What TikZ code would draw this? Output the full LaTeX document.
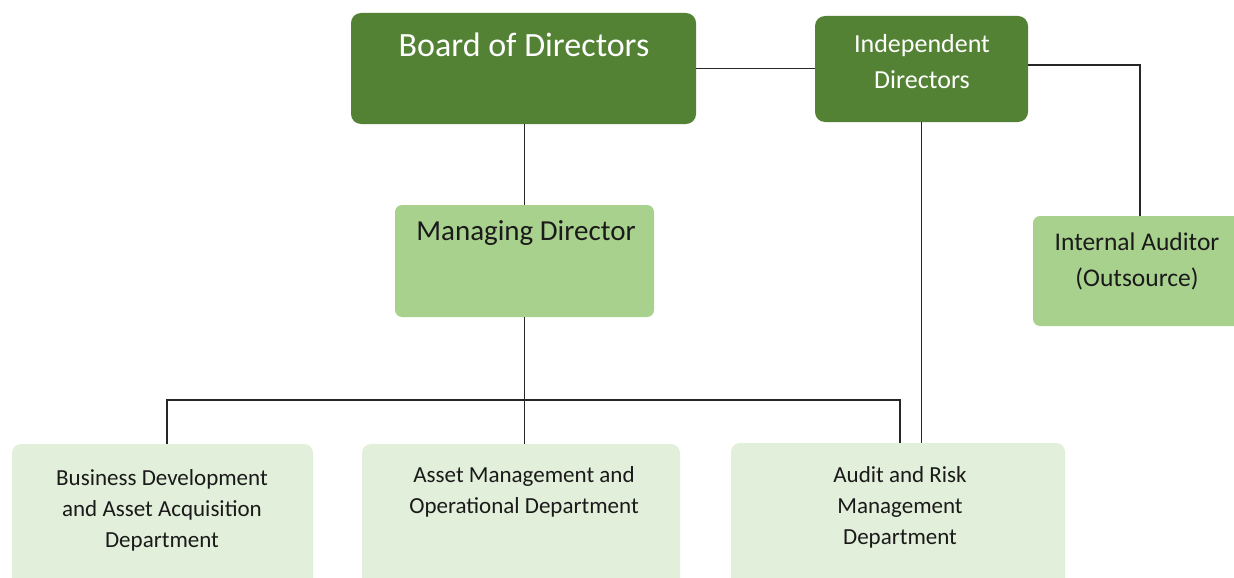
\documentclass[tikz,border=0pt]{standalone}
\usepackage{fontspec}
\setmainfont{Carlito}
\definecolor{dgreen}{HTML}{548235}
\definecolor{mgreen}{HTML}{A9D18E}
\definecolor{lgreen}{HTML}{E2EFDA}
\definecolor{txt}{HTML}{1A1A1A}
\begin{document}
\begin{tikzpicture}[x=1pt,y=-1pt,
  box/.style={rectangle, draw=none, inner sep=0pt},
  darkbox/.style={box, fill=dgreen, rounded corners=10pt},
  midbox/.style={box, fill=mgreen, rounded corners=7pt},
  lightbox/.style={box, fill=lgreen, rounded corners=9pt},
  wtext/.style={inner sep=0pt, align=center, text=white},
  btext/.style={inner sep=0pt, align=center, text=txt},
  conn/.style={draw=black!85, line width=1.2pt}]
\clip (0,0) rectangle (1234,578);
\fill[white] (0,0) rectangle (1234,578);
% boxes
\node[darkbox, minimum width=345pt, minimum height=111pt] (bod) at (523.5,68.5) {};
\node[darkbox, minimum width=213pt, minimum height=106pt] (idn) at (921.5,69) {};
\node[midbox, minimum width=259pt, minimum height=112pt] (md) at (524.5,261) {};
\node[midbox, minimum width=214pt, minimum height=110pt] (ia) at (1140,271) {};
\node[lightbox, minimum width=301pt, minimum height=156pt] (bd) at (162.5,522) {};
\node[lightbox, minimum width=318pt, minimum height=156pt] (am) at (521,522) {};
\node[lightbox, minimum width=334pt, minimum height=157pt] (ar) at (898,521.5) {};
% texts
\node[wtext, font=\fontsize{34}{40}\selectfont] (bodt) at (524,45) {Board of Directors};
\node[wtext, font=\fontsize{26}{36}\selectfont] (idnt) at (922,62) {Independent\\Directors};
\node[btext, font=\fontsize{29}{34}\selectfont] (mdt) at (526,233) {Managing Director};
\node[btext, font=\fontsize{25.5}{36}\selectfont] (iat) at (1137,261) {Internal Auditor\\(Outsource)};
\node[btext, font=\fontsize{23}{31}\selectfont] (bdt) at (162,510) {Business Development\\and Asset Acquisition\\Department};
\node[btext, font=\fontsize{23}{31}\selectfont] (amt) at (524,491.5) {Asset Management and\\Operational Department};
\node[btext, font=\fontsize{23}{31}\selectfont] (art) at (900,507) {Audit and Risk\\Management\\Department};
% connectors
\coordinate (bus) at (526,400);
\draw[conn] (bod.east) -- (bod.east -| idn.west);
\draw[conn] ([yshift=4pt]idn.east) -| (ia.north);
\draw[conn] (bod.south -| md.north) -- (md.north);
\draw[conn] (md.south) -- (md.south |- am.north);
\draw[conn] ([xshift=4.5pt]bd.north) |- (bus) -| ([xshift=2pt]ar.north);
\draw[conn] (idn.south) -- (idn.south |- ar.north);
\end{tikzpicture}
\end{document}
